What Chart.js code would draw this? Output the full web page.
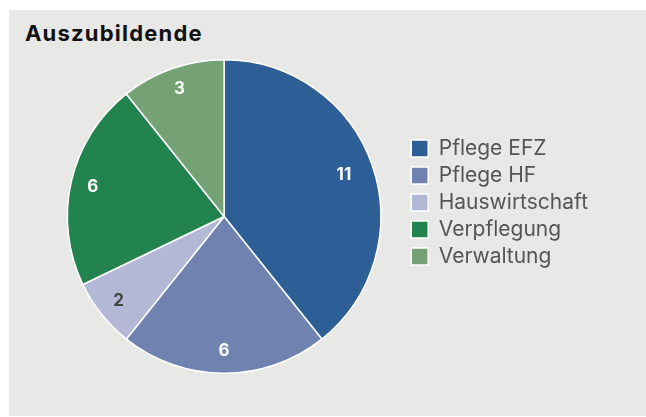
<!DOCTYPE html>
<html>
<head>
<meta charset="utf-8">
<script src="https://cdn.jsdelivr.net/npm/chart.js@4/dist/chart.umd.min.js"></script>
<style>
  html, body { margin: 0; padding: 0; background: #ffffff; }
  #panel { position: absolute; left: 9px; top: 10px; width: 637px; height: 406px; background: #e8e8e6; }
  #title { position: absolute; left: 25px; top: 20px; font-family: Inter, sans-serif; font-weight: bold; font-size: 22px; letter-spacing: 1.2px; color: #111111; }
  #wrap { position: absolute; left: 0; top: 0; width: 646px; height: 417px; }
</style>
</head>
<body>
<div id="panel"></div>
<div id="title">Auszubildende</div>
<div id="wrap"><canvas id="pie"></canvas></div>
<script>
var categories = ['Pflege EFZ', 'Pflege HF', 'Hauswirtschaft', 'Verpflegung', 'Verwaltung'];
var counts = [11, 6, 2, 6, 3];
var sliceColors = ['#2d5e96', '#6f82b0', '#b3b8d6', '#23834f', '#75a274'];
var labelColors = ['#ffffff', '#ffffff', '#444444', '#ffffff', '#ffffff'];

// draws the numbers inside each slice
var sliceLabels = {
  id: 'sliceLabels',
  afterDatasetsDraw: function(chart) {
    var ctx = chart.ctx;
    var meta = chart.getDatasetMeta(0);
    ctx.save();
    ctx.font = 'bold 17px Inter, sans-serif';
    ctx.textAlign = 'center';
    ctx.textBaseline = 'middle';
    meta.data.forEach(function(arc, i) {
      var p = arc.getProps(['x', 'y', 'startAngle', 'endAngle', 'outerRadius'], true);
      var mid = (p.startAngle + p.endAngle) / 2;
      var r = p.outerRadius * (i === 0 ? 0.81 : 0.86);
      ctx.fillStyle = labelColors[i];
      ctx.fillText(String(counts[i]), p.x + Math.cos(mid) * r, p.y + Math.sin(mid) * r);
    });
    ctx.restore();
  }
};

new Chart(document.getElementById('pie'), {
  type: 'pie',
  data: {
    labels: categories,
    datasets: [{
      data: counts,
      backgroundColor: sliceColors,
      borderColor: '#ffffff',
      borderWidth: 1.5
    }]
  },
  options: {
    responsive: true,
    maintainAspectRatio: false,
    animation: false,
    layout: { padding: { left: 43, top: 59, bottom: 43, right: 48 } },
    plugins: {
      legend: {
        position: 'right',
        align: 'start',
        title: {
          display: true,
          text: '',
          font: { size: 10, lineHeight: 1 },
          padding: { top: 63, bottom: 0 }
        },
        labels: {
          boxWidth: 17,
          boxHeight: 17,
          padding: 6,
          color: '#555555',
          font: { family: 'Inter, sans-serif', size: 21 }
        }
      },
      tooltip: { enabled: false }
    }
  },
  plugins: [sliceLabels]
});
</script>
</body>
</html>
